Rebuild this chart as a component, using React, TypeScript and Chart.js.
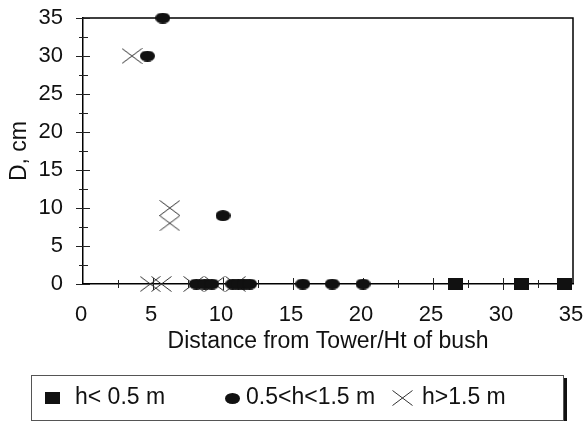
import React, { useEffect, useRef } from "react";
import { Chart, registerables } from "chart.js";

Chart.register(...registerables);

// ---- data ----
const X_MAJOR_TICKS = [0, 5, 10, 15, 20, 25, 30, 35];
const Y_MAJOR_TICKS = [0, 5, 10, 15, 20, 25, 30, 35];
const X_TITLE = "Distance from Tower/Ht of bush";
const Y_TITLE = "D, cm";
const SERIES_LABELS = ["h< 0.5 m", "0.5<h<1.5 m", "h>1.5 m"];

const lowX = [26.6, 31.3, 34.4];
const lowY = [0, 0, 0];

const midX = [5.7, 4.6, 10.0, 8.1, 8.7, 9.2, 10.7, 11.1, 11.5, 11.9, 15.7, 17.8, 20.0];
const midY = [35, 30, 9, 0, 0, 0, 0, 0, 0, 0, 0, 0, 0];

const highX = [3.5, 6.2, 6.2, 4.8, 5.6, 7.9, 9.4, 10.9];
const highY = [30, 10, 8, 0, 0, 0, 0, 0];

const FONT = "'Liberation Sans', Arial, sans-serif";

function makeMarker(kind: string): HTMLCanvasElement {
  const c = document.createElement("canvas");
  if (kind === "square") {
    c.width = 15;
    c.height = 12;
    const g = c.getContext("2d")!;
    g.fillStyle = "#111";
    g.fillRect(0, 0, 15, 12);
  } else if (kind === "ellipse") {
    c.width = 15;
    c.height = 11;
    const g = c.getContext("2d")!;
    g.fillStyle = "#111";
    g.beginPath();
    g.ellipse(7.5, 5.5, 7.5, 5.5, 0, 0, Math.PI * 2);
    g.fill();
  } else {
    c.width = 21;
    c.height = 16;
    const g = c.getContext("2d")!;
    g.strokeStyle = "#333";
    g.lineWidth = 1;
    g.beginPath();
    g.moveTo(0.5, 0.5);
    g.lineTo(20.5, 15.5);
    g.moveTo(20.5, 0.5);
    g.lineTo(0.5, 15.5);
    g.stroke();
  }
  return c;
}

const framePlugin = {
  id: "frameTicks",
  beforeDatasetsDraw(chart: any) {
    const { ctx, chartArea } = chart;
    const { left, right, top, bottom } = chartArea;
    const xs = chart.scales.x;
    const ys = chart.scales.y;
    ctx.save();
    ctx.strokeStyle = "#000";
    ctx.lineWidth = 1.5;
    ctx.beginPath();
    ctx.moveTo(left, top);
    ctx.lineTo(right, top);
    ctx.lineTo(right, bottom);
    ctx.stroke();
    ctx.lineWidth = 1;
    ctx.strokeStyle = "#222";
    ctx.beginPath();
    xs.ticks.forEach((t: any) => {
      if (t.value === xs.min || t.value === xs.max) return;
      const px = Math.round(xs.getPixelForValue(t.value)) + 0.5;
      const len = X_MAJOR_TICKS.includes(t.value) ? 6 : 4;
      ctx.moveTo(px, bottom - len);
      ctx.lineTo(px, bottom + len);
    });
    ys.ticks.forEach((t: any) => {
      const py = Math.round(ys.getPixelForValue(t.value)) + 0.5;
      const major = Y_MAJOR_TICKS.includes(t.value);
      ctx.moveTo(left - (major ? 7 : 4), py);
      ctx.lineTo(left + (major ? 7 : 5), py);
    });
    ctx.stroke();
    ctx.restore();
  },
};

const legendPlugin = {
  id: "boxLegend",
  afterDraw(chart: any) {
    const ctx = chart.ctx;
    ctx.save();
    ctx.strokeStyle = "#555";
    ctx.lineWidth = 1;
    ctx.strokeRect(31.5, 375.5, 532, 45);
    ctx.fillStyle = "#111";
    ctx.fillRect(564, 378, 3, 43);
    const markers = [makeMarker("square"), makeMarker("ellipse"), makeMarker("cross")];
    const mx = [52, 232, 402];
    const tx = [75, 246, 422];
    const cy = 398;
    ctx.font = `23px ${FONT}`;
    ctx.textBaseline = "middle";
    ctx.textAlign = "left";
    SERIES_LABELS.forEach((lab, i) => {
      const m = markers[i];
      ctx.drawImage(m, Math.round(mx[i] - m.width / 2), Math.round(cy - m.height / 2));
      ctx.fillStyle = "#111";
      ctx.fillText(lab, tx[i], cy);
    });
    ctx.restore();
  },
};

export default function App() {
  const ref = useRef<HTMLCanvasElement>(null);
  useEffect(() => {
    document.body.style.margin = "0";
    const toPts = (xs: number[], ys: number[]) => xs.map((x, i) => ({ x, y: ys[i] }));
    const chart = new Chart(ref.current!, {
      type: "scatter",
      data: {
        datasets: [
          {
            label: SERIES_LABELS[0],
            data: toPts(lowX, lowY),
            pointStyle: makeMarker("square") as any,
            backgroundColor: "#111",
            borderColor: "#111",
            clip: false as any,
          },
          {
            label: SERIES_LABELS[1],
            data: toPts(midX, midY),
            pointStyle: makeMarker("ellipse") as any,
            backgroundColor: "#111",
            borderColor: "#111",
            clip: false as any,
          },
          {
            label: SERIES_LABELS[2],
            data: toPts(highX, highY),
            pointStyle: makeMarker("cross") as any,
            backgroundColor: "#333",
            borderColor: "#333",
            clip: false as any,
          },
        ],
      },
      options: {
        animation: false,
        responsive: false,
        devicePixelRatio: 1,
        layout: { padding: { left: 0, top: 18, right: 10, bottom: 66 } },
        plugins: { legend: { display: false }, tooltip: { enabled: false } },
        scales: {
          x: {
            type: "linear",
            min: 0,
            max: 35,
            ticks: {
              stepSize: 2.5,
              autoSkip: false,
              maxRotation: 0,
              padding: 18,
              labelOffset: -2,
              color: "#111",
              font: { family: FONT, size: 22 },
              callback: (v: any) => (X_MAJOR_TICKS.includes(Number(v)) ? String(v) : ""),
            },
            grid: { display: false, drawTicks: false },
            border: { display: true, color: "#000", width: 1.5 },
            title: {
              display: true,
              text: X_TITLE,
              color: "#111",
              font: { family: FONT, size: 23 },
              padding: { top: 0, bottom: 0 },
            },
            afterFit: (s: any) => {
              s.height = 71;
              s.paddingLeft = 0;
              s.paddingRight = 0;
            },
          },
          y: {
            type: "linear",
            min: 0,
            max: 35,
            ticks: {
              stepSize: 2.5,
              autoSkip: false,
              padding: 20,
              color: "#111",
              font: { family: FONT, size: 22 },
              callback: (v: any) => (Y_MAJOR_TICKS.includes(Number(v)) ? String(v) : ""),
            },
            grid: { display: false, drawTicks: false },
            border: { display: true, color: "#000", width: 1.5 },
            title: {
              display: true,
              text: Y_TITLE,
              color: "#111",
              font: { family: FONT, size: 23 },
              padding: { top: 6, bottom: 0 },
            },
            afterFit: (s: any) => {
              s.width = 83;
              s.paddingTop = 0;
              s.paddingBottom = 0;
            },
          },
        },
      },
      plugins: [framePlugin, legendPlugin],
    });
    return () => chart.destroy();
  }, []);
  return (
    <div style={{ position: "fixed", left: 0, top: 0, width: 583, height: 421, background: "#fff" }}>
      <canvas ref={ref} width={583} height={421} style={{ display: "block" }} />
    </div>
  );
}
